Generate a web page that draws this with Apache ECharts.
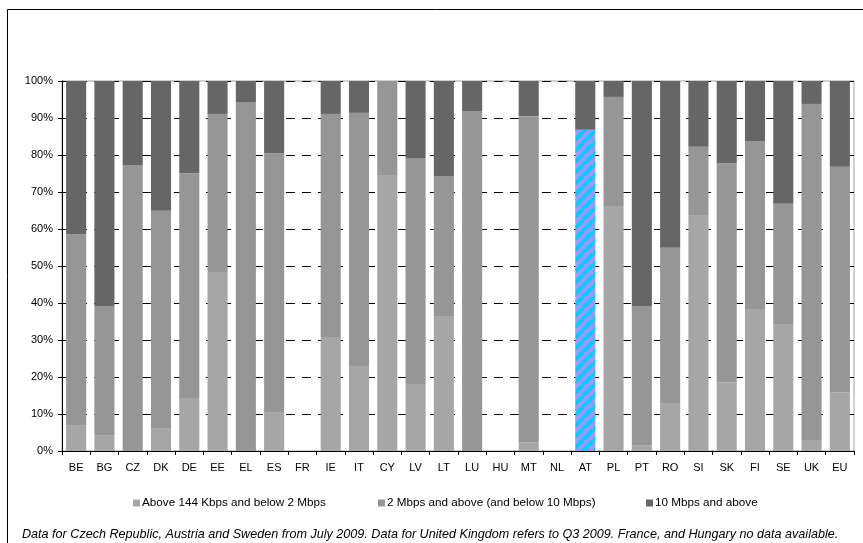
<!DOCTYPE html>
<html><head><meta charset="utf-8">
<script src="https://cdn.jsdelivr.net/npm/echarts@6/dist/echarts.min.js"></script>
<style>html,body{margin:0;padding:0;background:#fff}#c{width:863px;height:543px}</style>
</head><body><div id="c"></div>
<script>
const categories = ['BE','BG','CZ','DK','DE','EE','EL','ES','FR','IE','IT','CY','LV','LT','LU','HU','MT','NL','AT','PL','PT','RO','SI','SK','FI','SE','UK','EU'];
// Above 144 Kbps and below 2 Mbps (%)
const lowSpeed  = [6.8,4.3,0,6.2,14.3,48.4,0,10.5,null,30.8,23.0,74.6,18.1,36.5,0,null,2.4,null,0,66.2,1.6,13.0,63.8,18.6,38.4,34.1,3.0,15.9];
// 2 Mbps and above (and below 10 Mbps) (%)
const midSpeed  = [51.8,34.9,77.3,58.7,60.8,42.7,94.3,70.0,null,60.3,68.4,25.4,61.1,37.8,91.9,null,88.1,null,86.8,29.5,37.6,41.9,18.4,59.2,45.4,32.7,90.8,60.9];
// 10 Mbps and above (%)
const highSpeed = [41.4,60.8,22.7,35.1,24.9,8.9,5.7,19.5,null,8.9,8.6,0,20.8,25.7,8.1,null,9.5,null,13.2,4.3,60.8,45.1,17.8,22.2,16.2,33.2,6.2,23.2];
const seriesNames = ['Above 144 Kbps and below 2 Mbps','2 Mbps and above (and below 10 Mbps)','10 Mbps and above'];
const yTicks = [0,10,20,30,40,50,60,70,80,90,100];
const footnote = 'Data for Czech Republic, Austria and Sweden from July 2009. Data for United Kingdom refers to Q3 2009. France, and Hungary no data available.';
const highlighted = 'AT';

const colors = ['#a6a6a6','#969696','#666666'];
const FONT = 'Liberation Sans, Arial, sans-serif';

// hatched pattern tile
const tile = document.createElement('canvas');
const S = 11;
tile.width = S; tile.height = S;
const g = tile.getContext('2d');
g.fillStyle = '#9999ff'; g.fillRect(0,0,S,S);
g.strokeStyle = '#00ccff'; g.lineWidth = 3.8;
for (const off of [-S, 0, S]) {
  g.beginPath(); g.moveTo(off, S); g.lineTo(off + S, 0); g.stroke();
}
const hatch = {image: tile, repeat: 'repeat'};

function mk(vals, idx) {
  return vals.map((v, i) => {
    if (categories[i] === highlighted && idx === 1) {
      return {value: v, itemStyle: {color: hatch}};
    }
    return v;
  });
}

const chart = echarts.init(document.getElementById('c'), null, {renderer: 'canvas'});
chart.setOption({
  animation: false,
  textStyle: {fontFamily: FONT},
  grid: {left: 62, right: 9, top: 81, bottom: 92, show: true, borderColor: '#a0a0a0', borderWidth: 1, backgroundColor: 'transparent'},
  xAxis: {
    type: 'category', data: categories,
    axisLine: {lineStyle: {color: '#000', width: 1}},
    axisTick: {show: true, alignWithLabel: false, length: 4, lineStyle: {color: '#000'}},
    axisLabel: {color: '#000', fontSize: 11, margin: 11, fontFamily: FONT, interval: 0}
  },
  yAxis: {
    type: 'value', min: yTicks[0], max: yTicks[yTicks.length - 1], interval: 10,
    axisLine: {show: true, lineStyle: {color: '#000', width: 1}},
    axisTick: {show: true, length: 4, lineStyle: {color: '#000'}},
    axisLabel: {color: '#000', fontSize: 11, margin: 9, fontFamily: FONT, formatter: v => v + '%'},
    splitLine: {show: true, lineStyle: {color: '#000', width: 1, type: [9, 7]}}
  },
  legend: seriesNames.map((n, i) => ({
    data: [n], left: [128, 373, 641][i], top: 492,
    icon: 'rect', itemWidth: 7, itemHeight: 7, itemGap: 0,
    textStyle: {fontSize: 11.7, color: '#000', fontFamily: FONT, padding: [0, 0, 0, -3]}
  })),
  color: colors,
  series: [lowSpeed, midSpeed, highSpeed].map((vals, i) => ({
    name: seriesNames[i], type: 'bar', stack: 'total', data: mk(vals, i),
    barWidth: '71%', itemStyle: {color: colors[i]}
  })),
  graphic: [
    {type: 'rect', shape: {x: 7.5, y: 9.5, width: 900, height: 600}, style: {fill: 'none', stroke: '#000', lineWidth: 1}, silent: true},
    {type: 'text', left: 22, top: 528, style: {text: footnote, font: 'italic 12.6px ' + FONT, fill: '#000'}}
  ]
});
</script></body></html>
